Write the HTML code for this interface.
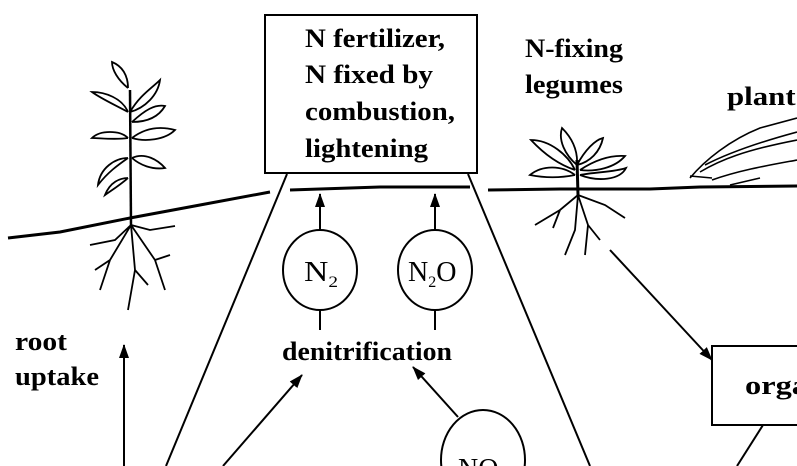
<!DOCTYPE html>
<html><head><meta charset="utf-8"><style>
html,body{margin:0;padding:0;background:#fff;width:797px;height:466px;overflow:hidden;}
svg{display:block}
text{font-family:"Liberation Serif",serif;font-weight:bold;fill:#000;}
</style></head><body>
<svg width="797" height="466" viewBox="0 0 797 466" xmlns="http://www.w3.org/2000/svg">
<defs>
<marker id="ah" markerWidth="14" markerHeight="12" refX="13" refY="6" orient="auto" markerUnits="userSpaceOnUse">
<path d="M0,1 L14,6 L0,11 Z" fill="#000"/>
</marker>
</defs>
<g fill="none" stroke="#000" stroke-width="2">
<rect x="265" y="15" width="212" height="158"/>
<line x1="287" y1="174" x2="166" y2="466"/>
<line x1="468" y1="174" x2="590" y2="466"/>
<path d="M8,238 L60,232 L130,218 L200,205 L270,192 M290,190 L380,187 L470,187 M488,190 L560,189 L650,189 L700,187 L797,186" stroke-width="3"/>
<line x1="320" y1="230" x2="320" y2="194" marker-end="url(#ah)"/>
<line x1="435" y1="230" x2="435" y2="194" marker-end="url(#ah)"/>
<ellipse cx="320" cy="270" rx="37" ry="40"/>
<ellipse cx="435" cy="270" rx="37" ry="40"/>
<line x1="320" y1="310" x2="320" y2="330"/>
<line x1="435" y1="310" x2="435" y2="330"/>
<line x1="124" y1="466" x2="124" y2="345" marker-end="url(#ah)"/>
<line x1="223" y1="466" x2="302" y2="375" marker-end="url(#ah)"/>
<line x1="458" y1="417" x2="413" y2="367" marker-end="url(#ah)"/>
<ellipse cx="483" cy="460" rx="42" ry="50"/>
<line x1="610" y1="250" x2="712" y2="360" marker-end="url(#ah)"/>
<rect x="712" y="346" width="100" height="79"/>
<line x1="763" y1="425" x2="737" y2="466"/>
<g stroke-width="1.8">
<line x1="130" y1="90" x2="131" y2="225" stroke-width="2.5"/>
<path d="M128,88 C118,80 112,70 112,62 C122,66 128,75 128,88"/>
<path d="M130,112 C140,95 152,88 160,80 C158,95 145,108 130,112"/>
<path d="M128,112 C115,105 100,98 92,92 C105,92 122,98 128,112"/>
<path d="M132,122 C145,110 155,104 165,106 C158,118 145,122 132,122"/>
<path d="M128,138 C115,140 100,138 92,138 C100,130 120,130 128,138"/>
<path d="M132,138 C145,128 160,126 175,130 C165,140 145,142 132,138"/>
<path d="M128,158 C118,165 108,172 98,185 C100,168 115,158 128,158"/>
<path d="M132,158 C145,152 158,160 165,168 C152,170 140,165 132,158"/>
<path d="M128,178 C120,185 112,190 105,195 C110,182 120,178 128,178"/>
<path d="M131,225 L115,240 L90,245 M131,225 L150,230 L175,226 M131,225 L110,260 L100,290 M131,225 L135,270 L128,310 M131,225 L155,260 L165,290 M110,260 L95,270 M135,270 L148,285 M155,260 L170,255"/>
</g>
<g stroke-width="1.8">
<line x1="577" y1="160" x2="578" y2="195" stroke-width="3"/>
<path d="M577,165 C565,155 558,140 562,128 C572,138 578,150 577,165"/>
<path d="M577,165 C585,150 595,140 603,138 C600,152 590,162 577,165"/>
<path d="M575,170 C560,165 545,155 531,140 C550,140 568,155 575,170"/>
<path d="M580,170 C595,160 610,155 625,156 C615,168 595,172 580,170"/>
<path d="M575,175 C560,178 545,178 530,175 C542,165 562,165 575,175"/>
<path d="M580,175 C595,172 615,172 626,168 C620,180 598,182 580,175"/>
<path d="M578,195 L560,210 L535,225 M578,195 L575,230 L565,255 M578,195 L588,225 L585,255 M588,225 L600,240 M578,195 L605,205 L625,218 M560,210 L553,228"/>
</g>
<g stroke-width="1.6">
<path d="M690,178 C705,160 730,140 760,128 L797,118"/>
<path d="M700,172 C720,160 745,150 797,140 M705,165 C730,152 760,142 797,132 M712,180 C740,170 770,165 797,160 M730,185 L760,178 M690,176 L712,178"/>
</g>
</g>
<g font-size="26">
<text x="305" y="47" textLength="140" lengthAdjust="spacingAndGlyphs">N fertilizer,</text>
<text x="305" y="83" textLength="128" lengthAdjust="spacingAndGlyphs">N fixed by</text>
<text x="305" y="120" textLength="150" lengthAdjust="spacingAndGlyphs">combustion,</text>
<text x="305" y="157" textLength="123" lengthAdjust="spacingAndGlyphs">lightening</text>
<text x="525" y="57" textLength="98" lengthAdjust="spacingAndGlyphs">N-fixing</text>
<text x="525" y="93" textLength="98" lengthAdjust="spacingAndGlyphs">legumes</text>
<text x="727" y="105" textLength="90" lengthAdjust="spacingAndGlyphs">plant r</text>
<text x="15" y="350" textLength="52" lengthAdjust="spacingAndGlyphs">root</text>
<text x="15" y="385" textLength="84" lengthAdjust="spacingAndGlyphs">uptake</text>
<text x="282" y="360" textLength="170" lengthAdjust="spacingAndGlyphs">denitrification</text>
<text x="745" y="394" textLength="90" lengthAdjust="spacingAndGlyphs">organi</text>
</g>
<g font-size="28">
<text x="304" y="281" style="font-weight:normal" textLength="34" lengthAdjust="spacingAndGlyphs">N<tspan font-size="16" dy="6">2</tspan></text>
<text x="408" y="281" style="font-weight:normal">N<tspan font-size="16" dy="6">2</tspan><tspan dy="-6">O</tspan></text>
<text x="458" y="478" style="font-weight:normal">NO<tspan font-size="16" dy="6">3</tspan></text>
</g>
</svg>
</body></html>
